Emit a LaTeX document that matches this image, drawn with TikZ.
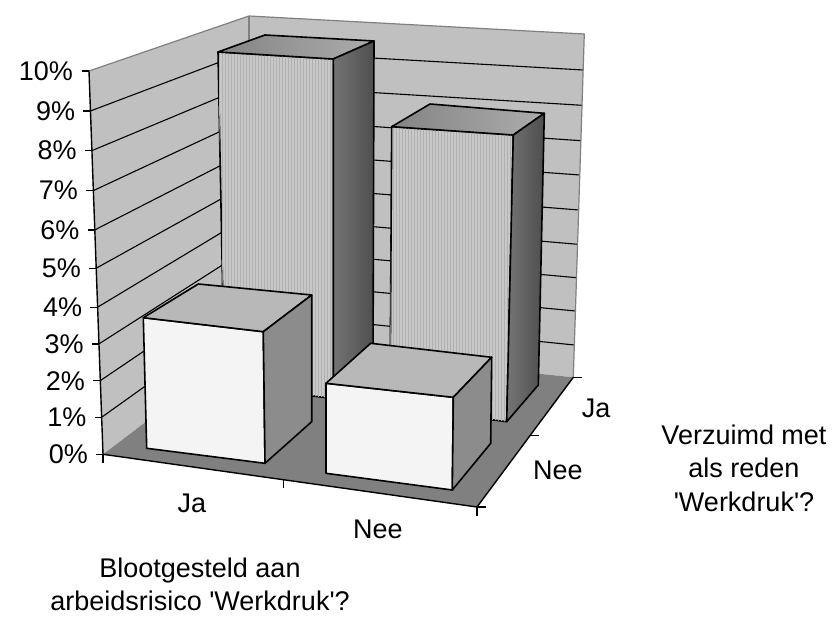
\documentclass[tikz,border=0pt]{standalone}
\usepackage{fontspec}
\setmainfont{Liberation Sans}
\usetikzlibrary{patterns}

\tikzset{
  wall/.style={fill={rgb,255:red,192;green,192;blue,192}},
  floorface/.style={fill={rgb,255:red,128;green,128;blue,128}},
  walledge/.style={draw={rgb,255:red,128;green,128;blue,128},line width=1.2pt},
  gridline/.style={draw=black,line width=1.1pt},
  axline/.style={draw=black,line width=1.4pt},
  axtick/.style={draw=black,line width=1.3pt},
  barfront/.style={draw=black,line width=1.6pt,line join=round,fill={rgb,255:red,200;green,200;blue,200},postaction={pattern=vertical lines,pattern color={rgb,255:red,176;green,176;blue,176}}},
  bartop/.style={draw=black,line width=1.6pt,line join=round,left color={rgb,255:red,132;green,132;blue,132},right color={rgb,255:red,172;green,172;blue,172}},
  barside/.style={draw=black,line width=1.6pt,line join=round,left color={rgb,255:red,116;green,116;blue,116},right color={rgb,255:red,78;green,78;blue,78}},
  boxfront/.style={draw=black,line width=1.6pt,line join=round,fill={rgb,255:red,244;green,244;blue,244}},
  boxtop/.style={draw=black,line width=1.6pt,line join=round,fill={rgb,255:red,184;green,184;blue,184}},
  boxside/.style={draw=black,line width=1.6pt,line join=round,fill={rgb,255:red,140;green,140;blue,140}},
  pct/.style={anchor=east,inner sep=0pt},
  lbl/.style={inner sep=0pt,align=center}
}

\begin{document}
\begin{tikzpicture}[x=1pt,y=-1pt,every node/.style={font=\fontsize{27}{33.5}\selectfont}]
\useasboundingbox (0,0) rectangle (832,617);

\coordinate (f0) at (103,454.3);
\coordinate (f1) at (101.6,417.3);
\coordinate (f2) at (100.2,380.7);
\coordinate (f3) at (98.8,344);
\coordinate (f4) at (97.4,307.3);
\coordinate (f5) at (96,268.3);
\coordinate (f6) at (94.6,230);
\coordinate (f7) at (93.2,190.7);
\coordinate (f8) at (91.8,150.7);
\coordinate (f9) at (90.4,111);
\coordinate (f10) at (89,71);
\coordinate (b0) at (249,344);
\coordinate (b1) at (249,312);
\coordinate (b2) at (249,280);
\coordinate (b3) at (249,248);
\coordinate (b4) at (249,216);
\coordinate (b5) at (249,183.5);
\coordinate (b6) at (249,151);
\coordinate (b7) at (249,118);
\coordinate (b8) at (249,85);
\coordinate (b9) at (249,51);
\coordinate (b10) at (249,16);
\coordinate (r0) at (573.3,377.3);
\coordinate (r1) at (574.4,345);
\coordinate (r2) at (575.5,311);
\coordinate (r3) at (576.6,277.7);
\coordinate (r4) at (577.7,244.3);
\coordinate (r5) at (578.8,210);
\coordinate (r6) at (579.9,175);
\coordinate (r7) at (581,140.7);
\coordinate (r8) at (582.1,105.3);
\coordinate (r9) at (583.2,70);
\coordinate (r10) at (584.3,34);
\coordinate (fr) at (477,507);
\coordinate (fmid) at (283.3,479.7);
\coordinate (dmid) at (530,435.7);

\path [wall] (f0) -- (f10) -- (b10) -- (b0) -- cycle;
\path [wall] (b0) -- (b10) -- (r10) -- (r0) -- cycle;
\path [gridline] (f1) edge (b1) (f2) edge (b2) (f3) edge (b3) (f4) edge (b4) (f5) edge (b5) (f6) edge (b6) (f7) edge (b7) (f8) edge (b8) (f9) edge (b9);
\path [gridline] (b1) edge (r1) (b2) edge (r2) (b3) edge (r3) (b4) edge (r4) (b5) edge (r5) (b6) edge (r6) (b7) edge (r7) (b8) edge (r8) (b9) edge (r9);
\path [walledge] (f10) -- (b10) -- (r10) -- (r0);
\path [walledge] (b10) -- (b0);
\path [floorface] (f0) -- (b0) -- (r0) -- (fr) -- cycle;
\path [axline] (f10) -- (f0) -- (fr) -- (r0);

\path [axtick] (f0) -- ++(-7,0) (f1) -- ++(-7,0) (f2) -- ++(-7,0) (f3) -- ++(-7,0) (f4) -- ++(-7,0) (f5) -- ++(-7,0) (f6) -- ++(-7,0) (f7) -- ++(-7,0) (f8) -- ++(-7,0) (f9) -- ++(-7,0) (f10) -- ++(-7,0);
\path [axtick] (f0) -- ++(0,8.5) (fmid) -- ++(0,8.5) (fr) -- ++(0,8.5) (fr) -- ++(8.5,0) (dmid) -- ++(8.5,0) (r0) -- ++(8.5,0);

\path [barfront] (218,52) -- (333.3,59) -- (333.3,398.5) -- (224.5,385.5) -- cycle;
\path [bartop] (218,52) -- (265,35) -- (374,41) -- (333.3,59) -- cycle;
\path [barside] (333.3,59) -- (374,41) -- (373,370) -- (333.3,398.5) -- cycle;
\path [barfront] (391.7,126.7) -- (513.3,135) -- (506.7,421.7) -- (390,406.5) -- cycle;
\path [bartop] (391.7,126.7) -- (430,104) -- (544.3,113.3) -- (513.3,135) -- cycle;
\path [barside] (513.3,135) -- (544.3,113.3) -- (538.3,385) -- (506.7,421.7) -- cycle;

\path [boxfront] (143.3,317.7) -- (263.3,331.7) -- (265,463.3) -- (146.7,448.3) -- cycle;
\path [boxtop] (143.3,317.7) -- (198.3,284) -- (311.7,295) -- (263.3,331.7) -- cycle;
\path [boxside] (263.3,331.7) -- (311.7,295) -- (311.7,421.7) -- (265,463.3) -- cycle;
\path [boxfront] (326,383.3) -- (453.3,397.3) -- (452.3,490) -- (326,473.3) -- cycle;
\path [boxtop] (326,383.3) -- (370.7,343.3) -- (491.7,357.3) -- (453.3,397.3) -- cycle;
\path [boxside] (453.3,397.3) -- (491.7,357.3) -- (490.7,443.3) -- (452.3,490) -- cycle;

\node[pct] (p0) at ([xshift=-15pt]f0) {0\%};
\node[pct] (p1) at ([xshift=-15pt]f1) {1\%};
\node[pct] (p2) at ([xshift=-15pt]f2) {2\%};
\node[pct] (p3) at ([xshift=-15pt]f3) {3\%};
\node[pct] (p4) at ([xshift=-15pt]f4) {4\%};
\node[pct] (p5) at ([xshift=-15pt]f5) {5\%};
\node[pct] (p6) at ([xshift=-15pt]f6) {6\%};
\node[pct] (p7) at ([xshift=-15pt]f7) {7\%};
\node[pct] (p8) at ([xshift=-15pt]f8) {8\%};
\node[pct] (p9) at ([xshift=-15pt]f9) {9\%};
\node[pct] (p10) at ([xshift=-16pt]f10) {10\%};

\node[lbl] (xja) at (192,503) {Ja};
\node[lbl] (xnee) at (378,529.5) {Nee};
\node[lbl] (zja) at (596,408.5) {Ja};
\node[lbl] (znee) at (558,470) {Nee};
\node[lbl] (ztitle) at (744,468) {Verzuimd met\\als reden\\\textquotesingle Werkdruk\textquotesingle ?};
\node[lbl] (xtitle) at (200,584.5) {Blootgesteld aan\\arbeidsrisico \textquotesingle Werkdruk\textquotesingle ?};
\end{tikzpicture}
\end{document}
